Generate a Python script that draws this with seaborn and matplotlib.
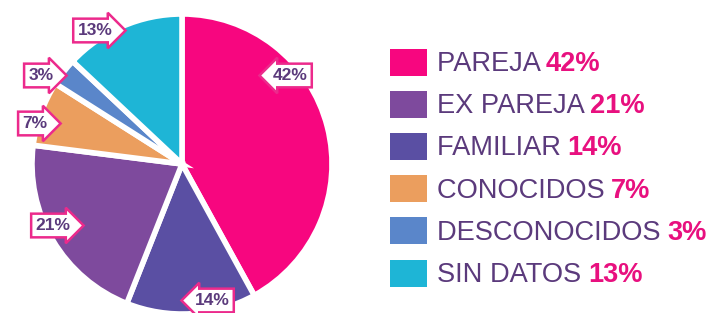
import matplotlib
matplotlib.use("Agg")
import matplotlib.pyplot as plt
import seaborn as sns
from matplotlib.patches import Rectangle

# ---- data ----
categories = ["PAREJA", "FAMILIAR", "EX PAREJA", "CONOCIDOS", "DESCONOCIDOS", "SIN DATOS"]
values = [42, 14, 21, 7, 3, 13]
legend_order = ["PAREJA", "EX PAREJA", "FAMILIAR", "CONOCIDOS", "DESCONOCIDOS", "SIN DATOS"]
colors = {
    "PAREJA": "#F7067F",
    "EX PAREJA": "#7E4A9D",
    "FAMILIAR": "#5A4FA3",
    "CONOCIDOS": "#EB9E5E",
    "DESCONOCIDOS": "#5A86CA",
    "SIN DATOS": "#1EB5D6",
}

sns.set_theme(style="white")
plt.rcParams["font.family"] = ["Liberation Sans", "DejaVu Sans"]

W, H = 719, 313
fig = plt.figure(figsize=(W / 100, H / 100), dpi=100)
fig.patch.set_facecolor("white")

# pie axes: centre (182,164) px, radius 150 px
cx, cy, r = 182, 164, 150
ax = fig.add_axes([(cx - r) / W, (H - cy - r) / H, 2 * r / W, 2 * r / H])
pal = sns.color_palette([colors[c] for c in categories])
wedges, _ = ax.pie(values, colors=pal, startangle=90, counterclock=False,
                   wedgeprops=dict(edgecolor="white", linewidth=4))
ax.set_xlim(-1, 1)
ax.set_ylim(-1, 1)
ax.set_aspect("auto")
ax.axis("off")

# label placement (layout), by category
label_pos = {
    "PAREJA": ((0.72, 0.59), "larrow"),
    "FAMILIAR": ((0.20, -0.91), "larrow"),
    "EX PAREJA": ((-0.86, -0.41), "rarrow"),
    "CONOCIDOS": ((-0.98, 0.27), "rarrow"),
    "DESCONOCIDOS": ((-0.94, 0.59), "rarrow"),
    "SIN DATOS": ((-0.58, 0.89), "rarrow"),
}
for cat, v in zip(categories, values):
    (x, y), style = label_pos[cat]
    ax.text(x, y, f"{v}%", ha="center", va="center", fontsize=12.5, fontweight="bold",
            color="#5B3A7C",
            bbox=dict(boxstyle=f"{style},pad=0.25", fc="white", ec="#EC2A8C", lw=1.8),
            clip_on=False)

# legend
lax = fig.add_axes([0, 0, 1, 1])
lax.set_xlim(0, W)
lax.set_ylim(H, 0)
lax.axis("off")
vals = dict(zip(categories, values))
y0, dy = 62, 42.2
fs = 19.6
for i, cat in enumerate(legend_order):
    yc = y0 + i * dy
    lax.add_patch(Rectangle((390, yc - 13.5), 37, 27, fc=colors[cat], ec="none"))
    t = lax.text(437, yc + 2, cat + " ", ha="left", va="center", fontsize=fs,
                 color="#5B3A7C")
    fig.canvas.draw()
    xe = t.get_window_extent().x1
    xd = lax.transData.inverted().transform((xe, 0))[0]
    lax.text(xd - 1, yc + 2, f"{vals[cat]}%", ha="left", va="center", fontsize=fs,
             fontweight="bold", color="#E8107F")

fig.savefig("out.png", dpi=100, facecolor="white")
